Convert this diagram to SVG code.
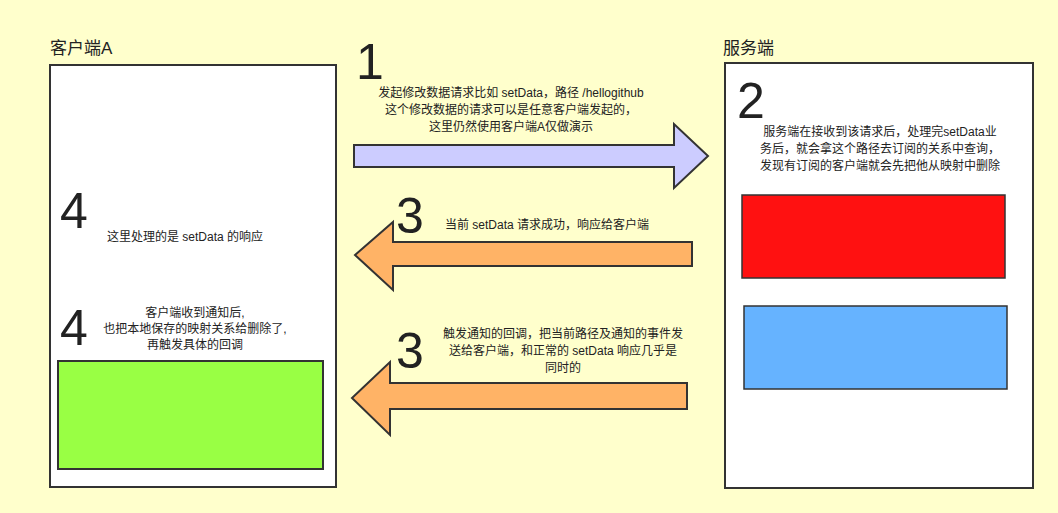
<svg xmlns="http://www.w3.org/2000/svg" width="1058" height="513" viewBox="0 0 1058 513">
<style>
text{font-family:"Liberation Sans","Noto Sans CJK SC",sans-serif;fill:#222}
.t{font-size:12px;text-anchor:middle}
.n{font-size:50px}
.h{font-size:17px}
.box{fill:#fff;stroke:#333;stroke-width:2}
.ar{stroke:#333;stroke-width:2}
</style>
<rect width="1058" height="513" fill="#ffffcc"/>
<g id="clientA">
<text class="h" x="50" y="54">客户端A</text>
<rect class="box" x="50" y="65" width="286" height="422"/>
<text class="n" x="60" y="228">4</text>
<text class="t" x="185" y="241">这里处理的是 setData 的响应</text>
<text class="n" x="60" y="345">4</text>
<text class="t" x="195" y="317">客户端收到通知后,</text>
<text class="t" x="195" y="333">也把本地保存的映射关系给删除了,</text>
<text class="t" x="195" y="349">再触发具体的回调</text>
<rect x="58" y="361" width="265" height="108" fill="#99ff44" stroke="#333" stroke-width="2"/>
</g>
<g id="server">
<text class="h" x="723" y="54">服务端</text>
<rect class="box" x="725" y="63" width="308" height="425"/>
<text class="n" x="737" y="118">2</text>
<text class="t" x="880" y="136">服务端在接收到该请求后，处理完setData业</text>
<text class="t" x="880" y="153">务后，就会拿这个路径去订阅的关系中查询，</text>
<text class="t" x="880" y="170">发现有订阅的客户端就会先把他从映射中删除</text>
<rect x="742" y="195" width="263" height="83" fill="#ff1111" stroke="#333" stroke-width="1.5"/>
<rect x="744" y="306" width="263" height="83" fill="#66b3ff" stroke="#333" stroke-width="1.5"/>
</g>
<g id="connectors">
<polygon class="ar" fill="#ccccff" points="354,145 674,145 674,124 708,156 674,188 674,167 354,167"/>
<polygon class="ar" fill="#ffb366" points="692,242 393,242 393,222 355,255 393,290 393,266 692,266"/>
<polygon class="ar" fill="#ffb366" points="687,383 390,383 390,362 352,398 390,435 390,409 687,409"/>
</g>
<g id="labels">
<text class="n" x="356" y="79">1</text>
<text class="t" x="511" y="97">发起修改数据请求比如 setData，路径 /hellogithub</text>
<text class="t" x="511" y="114">这个修改数据的请求可以是任意客户端发起的，</text>
<text class="t" x="511" y="131">这里仍然使用客户端A仅做演示</text>
<text class="n" x="396" y="233">3</text>
<text class="t" x="547" y="229">当前 setData 请求成功，响应给客户端</text>
<text class="n" x="396" y="368">3</text>
<text class="t" x="563" y="338">触发通知的回调，把当前路径及通知的事件发</text>
<text class="t" x="563" y="355">送给客户端，和正常的 setData 响应几乎是</text>
<text class="t" x="563" y="372">同时的</text>
</g>
</svg>
